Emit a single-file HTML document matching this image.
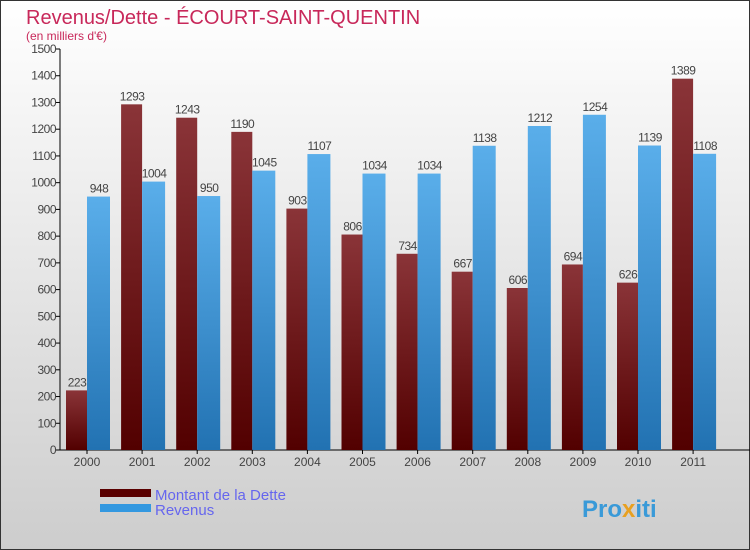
<!DOCTYPE html>
<html><head><meta charset="utf-8"><style>
body{margin:0}
svg{display:block;font-family:"Liberation Sans",sans-serif}
</style></head><body>
<svg width="750" height="550" viewBox="0 0 750 550">
<defs>
<linearGradient id="bg" x1="0" y1="0" x2="0" y2="1"><stop offset="0" stop-color="#ffffff"/><stop offset="1" stop-color="#cdcdcd"/></linearGradient>
<linearGradient id="gd" x1="0" y1="0" x2="0" y2="1"><stop offset="0" stop-color="#8a3438"/><stop offset="1" stop-color="#520000"/></linearGradient>
<linearGradient id="gr" x1="0" y1="0" x2="0" y2="1"><stop offset="0" stop-color="#5aaeea"/><stop offset="1" stop-color="#2272b2"/></linearGradient>
</defs>
<rect x="0.5" y="0.5" width="749" height="549" fill="url(#bg)" stroke="#333"/>
<text x="26" y="24" font-size="20" fill="#c8285a">Revenus/Dette - ÉCOURT-SAINT-QUENTIN</text>
<text x="26" y="40" font-size="12" fill="#c8285a">(en milliers d'€)</text>
<g id="axes"></g>
<g id="bars"></g>
<g>
<rect x="100" y="489" width="51" height="8" fill="#5a0000"/>
<text x="155" y="500" font-size="15" fill="#6666ee">Montant de la Dette</text>
<rect x="100" y="504" width="51" height="8" fill="#3398e0"/>
<text x="155" y="515" font-size="15" fill="#6666ee">Revenus</text>
</g>
<text x="582" y="517" font-size="24" font-weight="bold" fill="#3a9ad8">Pro<tspan fill="#e8a020">x</tspan>iti</text>
</svg>
<script>
const years=["2000","2001","2002","2003","2004","2005","2006","2007","2008","2009","2010","2011"];
const dette=[223,1293,1243,1190,903,806,734,667,606,694,626,1389];
const revenus=[948,1004,950,1045,1107,1034,1034,1138,1212,1254,1139,1108];
const yTicks=[0,100,200,300,400,500,600,700,800,900,1000,1100,1200,1300,1400,1500];
const NS="http://www.w3.org/2000/svg";
const y=v=>450-v*401/1500;
const xc=i=>87+i*55.1;
function mk(tag,attrs,parent,txt){const e=document.createElementNS(NS,tag);for(const k in attrs)e.setAttribute(k,attrs[k]);if(txt!==undefined)e.textContent=txt;parent.appendChild(e);return e;}
const ax=document.getElementById('axes'),bg=document.getElementById('bars');
let l=mk('line',{x1:60,y1:y(1500),x2:60,y2:450,stroke:'#000'},ax);


l=mk('line',{x1:60,y1:450,x2:750,y2:450,stroke:'#000'},ax);


yTicks.forEach(t=>{
 let tk=mk('line',{x1:56,x2:60,y1:y(t),y2:y(t),stroke:'#000'},ax);
 
 
 let tx=mk('text',{x:56,y:y(t)+4,'font-size':12,'text-anchor':'end',fill:'#444','letter-spacing':'-0.5'},ax,String(t));
 
 
});
years.forEach((yr,i)=>{
 const c=xc(i);
 let tk=mk('line',{x1:c,x2:c,y1:450,y2:454,stroke:'#000'},ax);
 
 
 let tx=mk('text',{x:c,y:466,'font-size':12,'text-anchor':'middle',fill:'#444'},ax,yr);
 
 
 let b=mk('rect',{x:c-21,y:y(dette[i]),width:21,height:450-y(dette[i]),fill:'url(#gd)'},bg);
 
 
 let b2=mk('rect',{x:c,y:y(revenus[i]),width:23,height:450-y(revenus[i]),fill:'url(#gr)'},bg);
 
 
 let v1=mk('text',{x:c-10,y:y(dette[i])-4,'font-size':12,'text-anchor':'middle',fill:'#444','letter-spacing':'-0.5'},bg,String(dette[i]));
 
 
 let v2=mk('text',{x:c+12,y:y(revenus[i])-4,'font-size':12,'text-anchor':'middle',fill:'#444','letter-spacing':'-0.5'},bg,String(revenus[i]));
 
 
});
</script>
</body></html>
